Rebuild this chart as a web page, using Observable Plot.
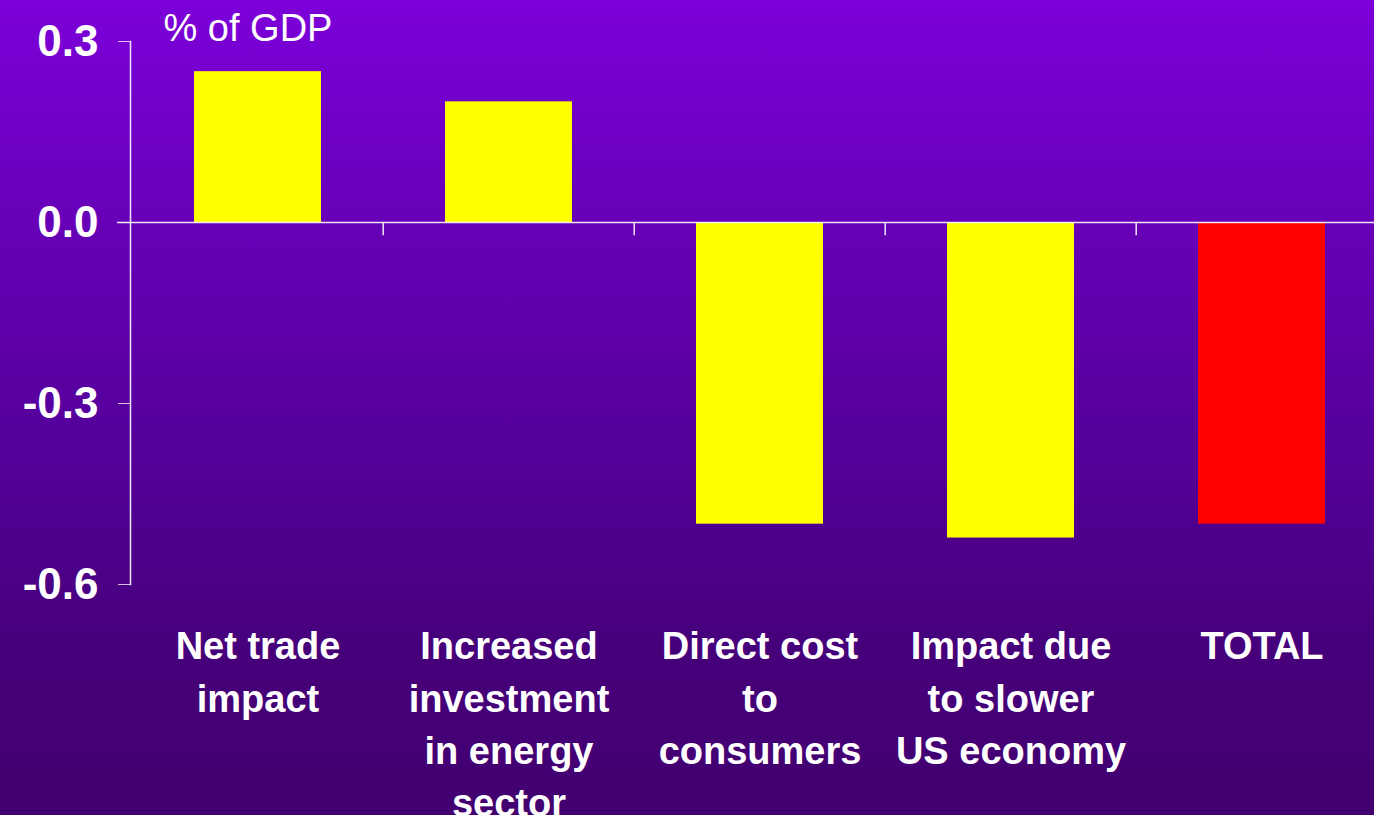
<!DOCTYPE html>
<html>
<head>
<meta charset="utf-8">
<script src="https://cdn.jsdelivr.net/npm/d3@7"></script>
<script src="https://cdn.jsdelivr.net/npm/@observablehq/plot@0.6"></script>
<style>
  html, body { margin: 0; padding: 0; }
  body {
    width: 1374px; height: 815px; overflow: hidden;
    background: linear-gradient(to bottom, #7C00D9 0%, #6500B4 30%, #54009A 55%, #46007A 80%, #420070 100%);
    font-family: "Liberation Sans", Arial, sans-serif;
  }
</style>
</head>
<body>
<div id="chart"></div>
<script>
const categories = [
  "Net trade impact",
  "Increased investment in energy sector",
  "Direct cost to consumers",
  "Impact due to slower US economy",
  "TOTAL"
];
const categoryLabels = [
  "Net trade\nimpact",
  "Increased\ninvestment\nin energy\nsector",
  "Direct cost\nto\nconsumers",
  "Impact due\nto slower\nUS economy",
  "TOTAL"
];
const values = [0.25, 0.2, -0.5, -0.523, -0.5];
const kinds = ["component", "component", "component", "component", "total"];
const yTicks = [0.3, 0.0, -0.3, -0.6];
const unitLabel = "% of GDP";

const data = categories.map((c, i) => ({category: c, value: values[i], kind: kinds[i]}));
const labelOf = new Map(categories.map((c, i) => [c, categoryLabels[i]]));

const xRange = [130, 1388];
const step = (xRange[1] - xRange[0]) / categories.length;

const chart = Plot.plot({
  width: 1374,
  height: 815,
  marginTop: 41,
  marginBottom: 231,
  marginLeft: 130,
  marginRight: 0,
  style: {background: "transparent", color: "white", fontFamily: "'Liberation Sans', Arial, sans-serif", overflow: "visible"},
  x: {domain: categories, range: xRange, paddingInner: 0.495, paddingOuter: 0.2475},
  y: {domain: [-0.6, 0.3]},
  color: {domain: ["component", "total"], range: ["#FFFF00", "#FF0000"]},
  marks: [
    Plot.barY(data, {x: "category", y: "value", fill: "kind"}),
    Plot.ruleY([0], {stroke: "white", strokeOpacity: 0.9, insetLeft: -13, strokeWidth: 1.5}),
    Plot.ruleX(categories.slice(1), {x: d => d, y1: 0, y2: -0.022, dx: -step / 2, stroke: "white", strokeOpacity: 0.9, strokeWidth: 1.5}),
    Plot.frame({anchor: "left", stroke: "white", strokeOpacity: 0.9, strokeWidth: 1.5}),
    Plot.axisY(yTicks, {
      tickSize: 12, tickPadding: 20, tickFormat: d => d.toFixed(1),
      fontSize: 44, fontWeight: "bold", stroke: "white", strokeOpacity: 0.75, label: null
    }),
    Plot.axisX({
      anchor: "bottom", tickSize: 0, tickPadding: 38, tickFormat: d => labelOf.get(d),
      fontSize: 38, fontWeight: "bold", lineHeight: 1.37, lineAnchor: "top", label: null
    }),
    Plot.text([unitLabel], {frameAnchor: "top-left", dx: 33, dy: -27, lineAnchor: "top", textAnchor: "start", fontSize: 38, fill: "white"})
  ]
});
document.getElementById("chart").appendChild(chart);
</script>
</body>
</html>
